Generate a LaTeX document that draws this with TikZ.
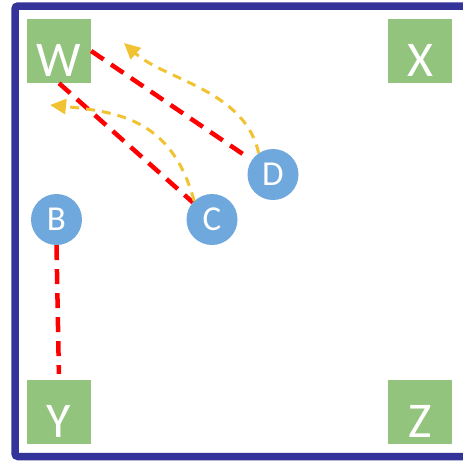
\documentclass[tikz,border=0pt]{standalone}
\usepackage{fontspec}
\setmainfont{Carlito}
\usepackage{tikz}
\usetikzlibrary{arrows.meta}
\definecolor{frameblue}{RGB}{51,51,153}
\definecolor{cellgreen}{RGB}{147,196,125}
\definecolor{agentblue}{RGB}{111,168,220}
\definecolor{moveyellow}{RGB}{241,194,50}

\begin{document}
\begin{tikzpicture}[x=1pt,y=-1pt,
  cell/.style={fill=cellgreen,minimum size=64pt,inner sep=0pt,text=white,
    font=\fontsize{50}{50}\selectfont,text height=50pt,text depth=0pt},
  agent/.style={circle,fill=agentblue,minimum size=51pt,inner sep=0pt,text=white,
    font=\fontsize{35}{35}\selectfont},
  link/.style={red,line width=4.5pt,dash pattern=on 15pt off 9pt},
  move/.style={moveyellow,line width=3pt,dash pattern=on 9pt off 7pt,
    -{Triangle[length=16pt,width=15pt]}}]
\useasboundingbox (0,0) rectangle (463,461);
\draw[frameblue,line width=7.5pt,rounded corners=3pt] (15,6) rectangle (475,456.5);
\node[cell] (W) at (59,51) {W};
\node[cell] (X) at (420,51) {X};
\node[cell] (Y) at (59,412) {Y};
\node[cell] (Z) at (420,412) {Z};
\node[agent] (B) at (56.5,219.5) {B};
\node[agent] (C) at (212,219.5) {C};
\node[agent] (D) at (273,174.5) {D};
\draw[link] (W.east) -- (D) [shorten >=10pt];
\draw[link] (W.south) -- (C);
\draw[link] (B.south) -- (Y.north) [shorten >=6pt];
\coordinate (dD) at (124,43);
\coordinate (dC) at (50,105);
\draw[move] (D.124) .. controls (245,90) and (165,80) .. (dD);
\draw[move] (C.134) .. controls (172,120) and (120,112) .. (dC);
\end{tikzpicture}
\end{document}
